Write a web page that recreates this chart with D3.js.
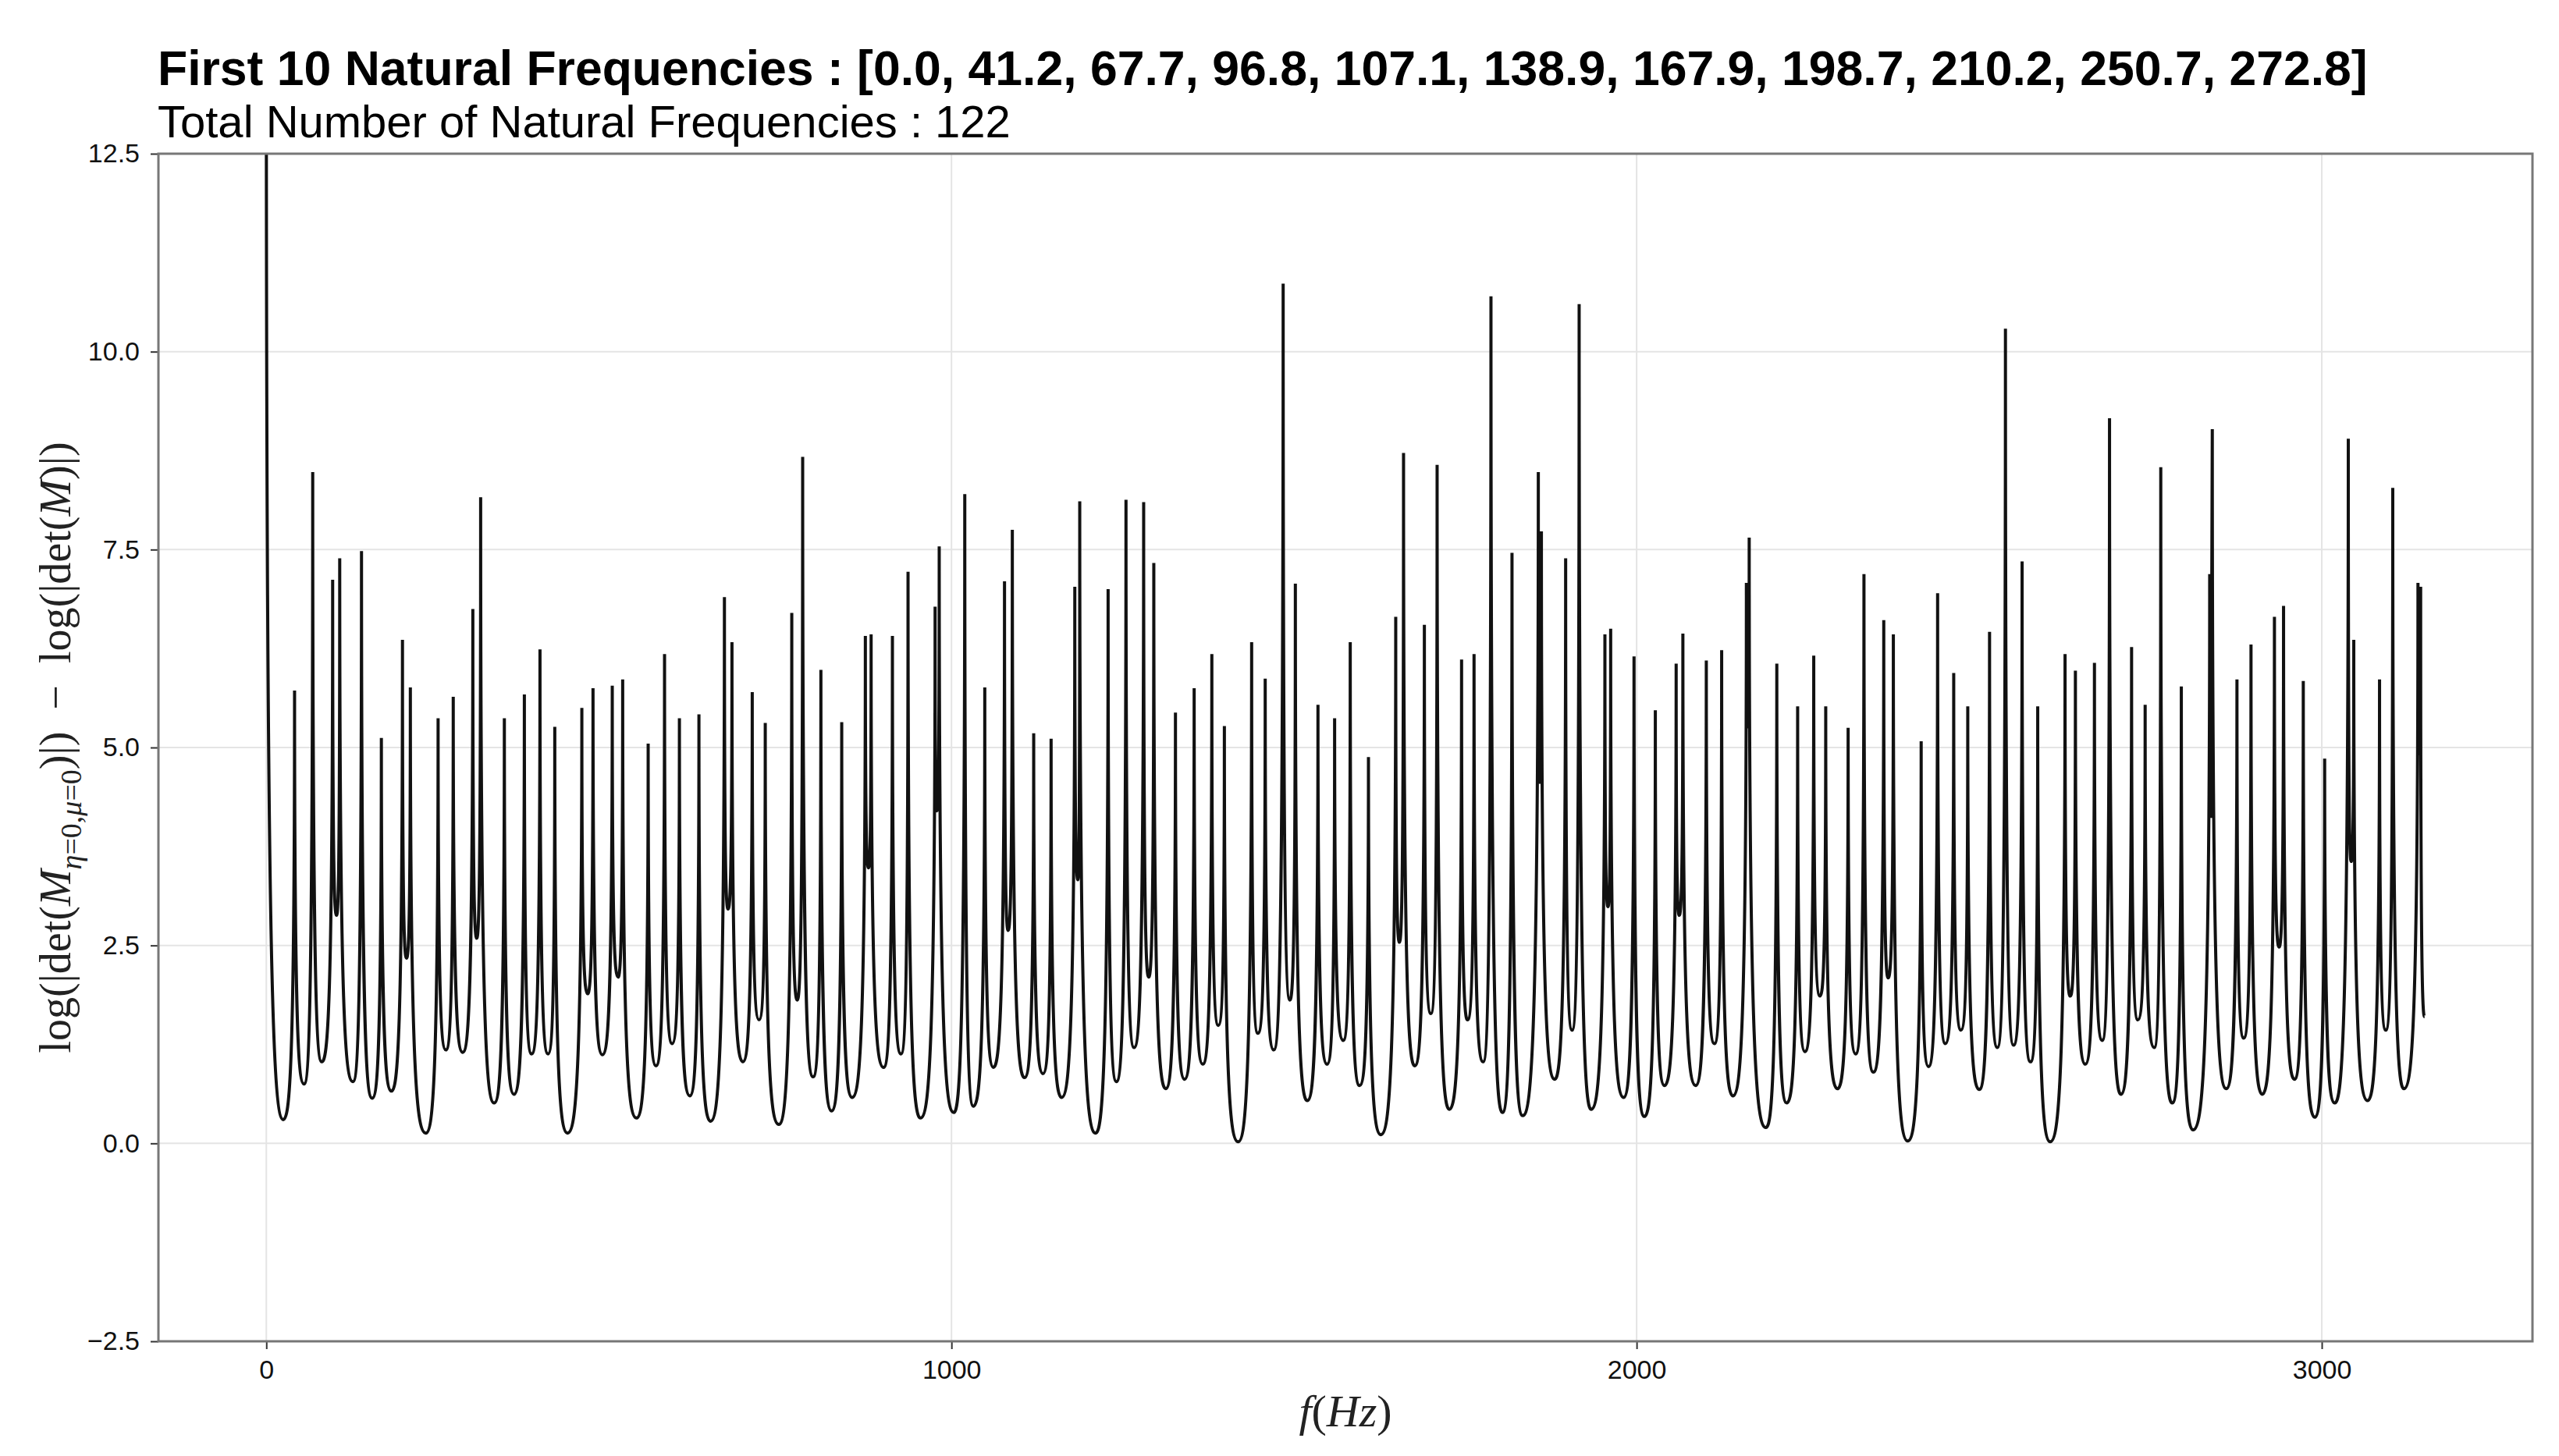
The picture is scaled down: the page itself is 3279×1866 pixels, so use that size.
<!DOCTYPE html>
<html>
<head>
<meta charset="utf-8">
<script src="https://cdn.jsdelivr.net/npm/d3@7"></script>
<style>
  html, body { margin: 0; padding: 0; background: #ffffff; }
  svg { display: block; }
</style>
</head>
<body>
<div id="chart"></div>
<script>
// ---------------- DATA ----------------
const titleFrequencies = [0.0, 41.2, 67.7, 96.8, 107.1, 138.9, 167.9, 198.7, 210.2, 250.7, 272.8];
const totalNaturalFrequencies = 122;

// resonance peaks: frequency (Hz) and curve value at the peak
const peakFreq = [
  0, 41.2, 67.7, 96.8, 107.1, 138.9, 167.9, 198.7, 210.2, 250.7,
  272.8, 301.4, 312.8, 347.4, 376.6, 399.4, 421.0, 460.5, 476.8, 504.9,
  520.1, 557.3, 581.2, 602.9, 631.4, 668.6, 679.6, 709.2, 728.2, 766.9,
  782.8, 809.4, 839.8, 874.3, 882.7, 913.8, 936.6, 976.1, 982.1, 1019.4,
  1048.6, 1077.4, 1088.8, 1120.0, 1145.4, 1180.0, 1187.2, 1228.6, 1254.7, 1280.5,
  1295.3, 1326.9, 1354.2, 1380.0, 1398.3, 1438.1, 1457.9, 1484.1, 1501.9, 1534.9,
  1559.2, 1582.0, 1608.6, 1648.4, 1659.8, 1690.2, 1708.8, 1744.5, 1762.7, 1787.4,
  1818.1, 1856.5, 1861.0, 1896.4, 1916.1, 1953.7, 1962.1, 1996.2, 2027.3, 2057.7,
  2067.5, 2101.7, 2124.1, 2160.2, 2164.3, 2204.6, 2235.0, 2258.5, 2276.0, 2308.7,
  2331.8, 2360.7, 2374.7, 2415.3, 2439.3, 2462.8, 2483.3, 2515.1, 2538.3, 2562.6,
  2585.4, 2625.3, 2640.4, 2668.2, 2690.2, 2722.4, 2742.2, 2765.0, 2795.0, 2836.4,
  2840.2, 2876.2, 2896.7, 2930.9, 2944.2, 2973.0, 3004.2, 3038.7, 3046.7, 3084.3,
  3103.6, 3140.4, 3144.3
];
const peakValue = [
  14.0, 5.72, 8.48, 7.12, 7.39, 7.48, 5.12, 6.36, 5.76, 5.37,
  5.64, 6.75, 8.16, 5.37, 5.67, 6.24, 5.26, 5.50, 5.75, 5.78,
  5.86, 5.05, 6.18, 5.37, 5.42, 6.90, 6.33, 5.70, 5.31, 6.70,
  8.67, 5.98, 5.32, 6.41, 6.43, 6.41, 7.22, 6.78, 7.54, 8.20,
  5.76, 7.10, 7.75, 5.18, 5.11, 7.03, 8.11, 7.00, 8.13, 8.10,
  7.33, 5.44, 5.75, 6.18, 5.27, 6.33, 5.87, 10.86, 7.07, 5.54,
  5.37, 6.33, 4.88, 6.65, 8.72, 6.55, 8.57, 6.11, 6.18, 10.70,
  7.46, 8.48, 7.73, 7.39, 10.60, 6.43, 6.50, 6.15, 5.47, 6.06,
  6.44, 6.10, 6.23, 7.08, 7.65, 6.06, 5.52, 6.16, 5.52, 5.25,
  7.19, 6.61, 6.43, 5.08, 6.95, 5.94, 5.52, 6.46, 10.29, 7.35,
  5.52, 6.18, 5.97, 6.07, 9.16, 6.27, 5.54, 8.54, 5.77, 7.19,
  9.02, 5.86, 6.30, 6.65, 6.79, 5.84, 4.86, 8.90, 6.36, 5.86,
  8.28, 7.08, 7.03
];

// local minima between consecutive peaks
const troughFreq = [
  24.7, 55.0, 80.9, 102.5, 126.4, 154.5, 182.6, 204.6, 232.7, 262.0,
  286.6, 307.1, 332.6, 361.4, 387.2, 411.2, 439.6, 468.9, 490.5, 513.3,
  540.2, 568.7, 592.3, 618.1, 648.4, 673.9, 695.5, 719.1, 747.9, 774.9,
  798.0, 825.0, 855.0, 878.9, 900.9, 926.3, 954.8, 978.7, 1003.4, 1031.9,
  1061.1, 1082.7, 1106.7, 1133.6, 1160.9, 1184.5, 1210.3, 1240.7, 1266.5, 1287.8,
  1312.8, 1340.2, 1366.7, 1389.5, 1418.4, 1447.2, 1470.4, 1493.9, 1519.4, 1548.2,
  1571.8, 1595.7, 1626.8, 1653.8, 1676.2, 1699.7, 1726.7, 1753.2, 1776.0, 1804.1,
  1833.7, 1858.4, 1880.4, 1905.8, 1933.6, 1958.2, 1981.0, 2011.4, 2040.6, 2062.2,
  2086.2, 2113.5, 2140.5, 2162.5, 2188.7, 2219.1, 2245.6, 2267.7, 2293.1, 2319.6,
  2345.5, 2367.1, 2395.6, 2426.0, 2450.6, 2473.4, 2500.0, 2526.5, 2550.1, 2574.8,
  2603.6, 2632.9, 2654.9, 2679.6, 2706.9, 2731.6, 2755.5, 2781.7, 2812.1, 2838.3,
  2860.6, 2886.1, 2913.1, 2937.7, 2960.1, 2989.7, 3018.9, 3042.9, 3066.8, 3093.4,
  3119.9, 3142.4
];
const troughValue = [
  0.30, 0.75, 1.03, 2.88, 0.78, 0.57, 0.66, 2.34, 0.13, 1.18,
  1.15, 2.59, 0.51, 0.62, 1.13, 1.13, 0.13, 1.89, 1.12, 2.10,
  0.32, 0.98, 1.26, 0.60, 0.28, 2.96, 1.03, 1.56, 0.24, 1.81,
  0.84, 0.41, 0.58, 3.48, 0.96, 1.13, 0.32, 4.20, 0.39, 0.47,
  0.96, 2.69, 0.83, 0.88, 0.58, 3.33, 0.13, 0.78, 1.21, 2.10,
  0.69, 0.81, 1.00, 1.49, 0.02, 1.39, 1.18, 1.81, 0.54, 1.00,
  1.30, 0.73, 0.11, 2.54, 0.98, 1.64, 0.43, 1.56, 1.03, 0.39,
  0.35, 4.56, 0.81, 1.43, 0.43, 2.99, 0.58, 0.34, 0.73, 2.88,
  0.73, 1.26, 0.60, 5.26, 0.20, 0.51, 1.16, 1.86, 0.69, 1.13,
  0.90, 2.09, 0.03, 0.97, 1.26, 1.43, 0.68, 1.21, 1.24, 1.03,
  0.02, 1.86, 1.00, 1.30, 0.62, 1.56, 1.21, 0.51, 0.17, 4.13,
  0.69, 1.33, 0.62, 2.48, 0.81, 0.33, 0.51, 3.56, 0.54, 1.43,
  0.69, 4.92
];
// last sample of the sweep
const endFreq = 3150;
const endValue = 1.60;

const yTicks = [-2.5, 0.0, 2.5, 5.0, 7.5, 10.0, 12.5];
const yTickLabels = ["\u22122.5", "0.0", "2.5", "5.0", "7.5", "10.0", "12.5"];
const xTicks = [0, 1000, 2000, 3000];
const xTickLabels = ["0", "1000", "2000", "3000"];

// ---------------- LAYOUT ----------------
const W = 3279, H = 1866;
const plot = { left: 203, right: 3245, top: 197, bottom: 1719 };

const svg = d3.select("#chart").append("svg")
  .attr("width", W).attr("height", H)
  .attr("viewBox", `0 0 ${W} ${H}`);

svg.append("rect").attr("width", W).attr("height", H).attr("fill", "#ffffff");

// series: peak, trough, peak, trough ... , last peak, end point
const series = [];
for (let i = 0; i < peakFreq.length; i++) {
  series.push([peakFreq[i], peakValue[i]]);
  if (i < troughFreq.length) series.push([troughFreq[i], troughValue[i]]);
}
series.push([endFreq, endValue]);

const [fMin, fMax] = d3.extent(series, d => d[0]);
const pad = 0.05 * (fMax - fMin);
const x = d3.scaleLinear().domain([fMin - pad, fMax + pad]).range([plot.left, plot.right]);
const y = d3.scaleLinear().domain([-2.5, 12.5]).range([plot.bottom, plot.top]);

// grid
const grid = svg.append("g").attr("class", "grid");
grid.selectAll("line.gx").data(xTicks).join("line")
  .attr("x1", d => x(d)).attr("x2", d => x(d))
  .attr("y1", plot.top).attr("y2", plot.bottom)
  .attr("stroke", "#e4e4e4").attr("stroke-width", 2);
grid.selectAll("line.gy").data(yTicks).join("line")
  .attr("x1", plot.left).attr("x2", plot.right)
  .attr("y1", d => y(d)).attr("y2", d => y(d))
  .attr("stroke", "#e4e4e4").attr("stroke-width", 2);

// custom curve: sharp resonance cusps with rounded valleys
function CuspCurve(context) { this._context = context; }
CuspCurve.prototype = {
  areaStart() { this._line = 0; },
  areaEnd() { this._line = NaN; },
  lineStart() { this._point = 0; },
  lineEnd() { this._line = 1 - (this._line || 0); },
  point(px, py) {
    px = +px; py = +py;
    if (this._point === 0) {
      this._point = 1;
      this._context.moveTo(px, py);
    } else {
      const x0 = this._x0, y0 = this._y0;
      const a = 0.9, b = 0.55;
      if (y0 < py) {
        // from a peak (top) down into a valley
        this._context.bezierCurveTo(x0, y0 + a * (py - y0), px - b * (px - x0), py, px, py);
      } else {
        // from a valley up to a peak
        this._context.bezierCurveTo(x0 + b * (px - x0), y0, px, py + a * (y0 - py), px, py);
      }
    }
    this._x0 = px; this._y0 = py;
  }
};
const cuspCurve = ctx => new CuspCurve(ctx);

svg.append("clipPath").attr("id", "plotclip").append("rect")
  .attr("x", plot.left).attr("y", plot.top)
  .attr("width", plot.right - plot.left).attr("height", plot.bottom - plot.top);

const line = d3.line().x(d => x(d[0])).y(d => y(d[1])).curve(cuspCurve);
svg.append("path").datum(series)
  .attr("clip-path", "url(#plotclip)")
  .attr("d", line)
  .attr("fill", "none")
  .attr("stroke", "#111111")
  .attr("stroke-width", 4)
  .attr("stroke-linejoin", "miter")
  .attr("stroke-miterlimit", 2);

// axes
const xAxis = d3.axisBottom(x).tickValues(xTicks).tickFormat((d, i) => xTickLabels[i])
  .tickSize(10).tickPadding(14);
const yAxis = d3.axisLeft(y).tickValues(yTicks).tickFormat((d, i) => yTickLabels[i])
  .tickSize(10).tickPadding(14);

const gx = svg.append("g").attr("transform", `translate(0,${plot.bottom})`).call(xAxis);
const gy = svg.append("g").attr("transform", `translate(${plot.left},0)`).call(yAxis);
[gx, gy].forEach(g => {
  g.select(".domain").remove();
  g.selectAll(".tick line").attr("stroke", "#333").attr("stroke-width", 2);
  g.selectAll(".tick text").attr("fill", "#111")
    .style("font-family", "'Liberation Sans', Arial, sans-serif").style("font-size", "34px");
});

// frame
svg.append("rect")
  .attr("x", plot.left).attr("y", plot.top)
  .attr("width", plot.right - plot.left).attr("height", plot.bottom - plot.top)
  .attr("fill", "none").attr("stroke", "#777777").attr("stroke-width", 3);

// titles
svg.append("text")
  .attr("x", plot.left - 1).attr("y", 109)
  .style("font-family", "'Liberation Sans', Arial, sans-serif")
  .style("font-weight", "bold").style("font-size", "62.5px").attr("fill", "#000")
  .text(`First 10 Natural Frequencies : [${titleFrequencies.map(d => d.toFixed(1)).join(", ")}]`);
svg.append("text")
  .attr("x", plot.left - 1).attr("y", 176)
  .style("font-family", "'Liberation Sans', Arial, sans-serif")
  .style("font-size", "58px").attr("fill", "#000")
  .text(`Total Number of Natural Frequencies : ${totalNaturalFrequencies}`);

// x label  f(Hz)
const xl = svg.append("text")
  .attr("x", (plot.left + plot.right) / 2).attr("y", 1828)
  .attr("text-anchor", "middle")
  .style("font-family", "'Liberation Serif', 'DejaVu Serif', serif")
  .style("font-size", "58px").attr("fill", "#222");
xl.append("tspan").style("font-style", "italic").text("f");
xl.append("tspan").text("(");
xl.append("tspan").style("font-style", "italic").text("Hz");
xl.append("tspan").text(")");

// y label  log(|det(M_{η=0,μ=0})|) − log(|det(M)|)
const ylab = svg.append("text")
  .attr("transform", `translate(90,${(plot.top + plot.bottom) / 2}) rotate(-90)`)
  .attr("text-anchor", "middle")
  .style("font-family", "'Liberation Serif', 'DejaVu Serif', serif")
  .style("font-size", "56px").attr("fill", "#222");
ylab.append("tspan").text("log(|det(");
ylab.append("tspan").style("font-style", "italic").text("M");
ylab.append("tspan").attr("dy", 14).style("font-size", "38px").style("font-style", "italic").text("\u03b7");
ylab.append("tspan").style("font-size", "38px").text("=0,");
ylab.append("tspan").style("font-size", "38px").style("font-style", "italic").text("\u03bc");
ylab.append("tspan").style("font-size", "38px").text("=0");
ylab.append("tspan").attr("dy", -14).text(")|)\u2002\u2212\u2002log(|det(");
ylab.append("tspan").style("font-style", "italic").text("M");
ylab.append("tspan").text(")|)");
</script>
</body>
</html>
